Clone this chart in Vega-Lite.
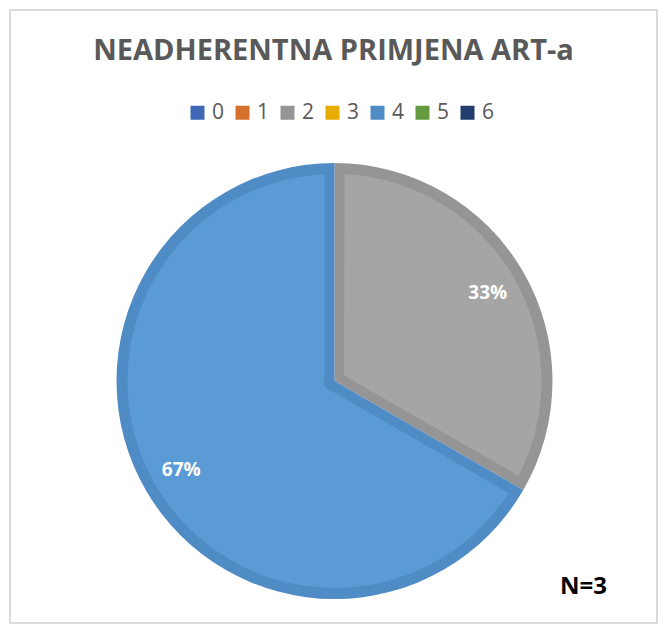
{
  "$schema": "https://vega.github.io/schema/vega-lite/v6.json",
  "width": 647,
  "height": 613,
  "autosize": "none",
  "padding": {"left": 10, "top": 10, "right": 7, "bottom": 1},
  "background": "white",
  "title": {
    "text": "NEADHERENTNA PRIMJENA ART-a",
    "orient": "top",
    "anchor": "middle",
    "frame": "group",
    "offset": -80,
    "baseline": "alphabetic",
    "font": "Open Sans",
    "fontSize": 29,
    "fontWeight": "bold",
    "color": "#595959"
  },
  "data": {
    "values": [
      {"cat": "2", "value": 1, "pct": "33%", "note": "N=3"},
      {"cat": "4", "value": 2, "pct": "67%", "note": "N=3"}
    ]
  },
  "layer": [
    {
      "mark": {"type": "rect", "fill": null, "stroke": "#D9D9D9", "strokeWidth": 1.5},
      "encoding": {}
    },
    {
      "mark": {"type": "arc", "outerRadius": 218, "xOffset": 1, "yOffset": 64.5},
      "encoding": {
        "theta": {"field": "value", "type": "quantitative", "stack": true},
        "color": {
          "field": "cat",
          "type": "nominal",
          "scale": {
            "domain": ["0", "1", "2", "3", "4", "5", "6"],
            "range": ["#3F69B6", "#D6702D", "#959595", "#E6AC00", "#4F8BC5", "#649B40", "#223E6E"]
          },
          "legend": {
            "orient": "none",
            "legendX": 177,
            "legendY": 92,
            "direction": "horizontal",
            "title": null,
            "symbolType": "square",
            "symbolSize": 196,
            "symbolStrokeWidth": 0,
            "symbolOpacity": 1,
            "labelFont": "Open Sans",
            "labelFontSize": 21,
            "labelColor": "#595959",
            "labelOffset": 4,
            "columnPadding": 7
          }
        }
      }
    },
    {
      "mark": {"type": "arc", "outerRadius": 207, "innerRadius": 11, "padAngle": 0.0965, "xOffset": 1, "yOffset": 64.5},
      "encoding": {
        "theta": {"field": "value", "type": "quantitative", "stack": true},
        "color": {
          "field": "cat",
          "type": "nominal",
          "scale": {"domain": ["2", "4"], "range": ["#A5A5A5", "#5B9BD5"]},
          "legend": null
        },
        "opacity": {
          "field": "note",
          "type": "ordinal",
          "scale": {"range": [1]},
          "legend": {
            "orient": "none",
            "legendX": 526,
            "legendY": 565,
            "title": null,
            "symbolSize": 0,
            "symbolOpacity": 0,
            "symbolStrokeWidth": 0,
            "labelOffset": 0,
            "labelFont": "Open Sans",
            "labelFontSize": 24,
            "labelFontWeight": "bold",
            "labelColor": "#000000"
          }
        }
      }
    },
    {
      "mark": {"type": "text", "radius": 177, "xOffset": 1, "yOffset": 64.5, "font": "Open Sans", "fontWeight": "bold", "fontSize": 19, "color": "#FFFFFF"},
      "encoding": {
        "theta": {"field": "value", "type": "quantitative", "stack": true},
        "text": {"field": "pct", "type": "nominal"},
        "detail": {"field": "cat", "type": "nominal"}
      }
    }
  ],
  "resolve": {"scale": {"color": "independent"}},
  "config": {"view": {"stroke": null}}
}
